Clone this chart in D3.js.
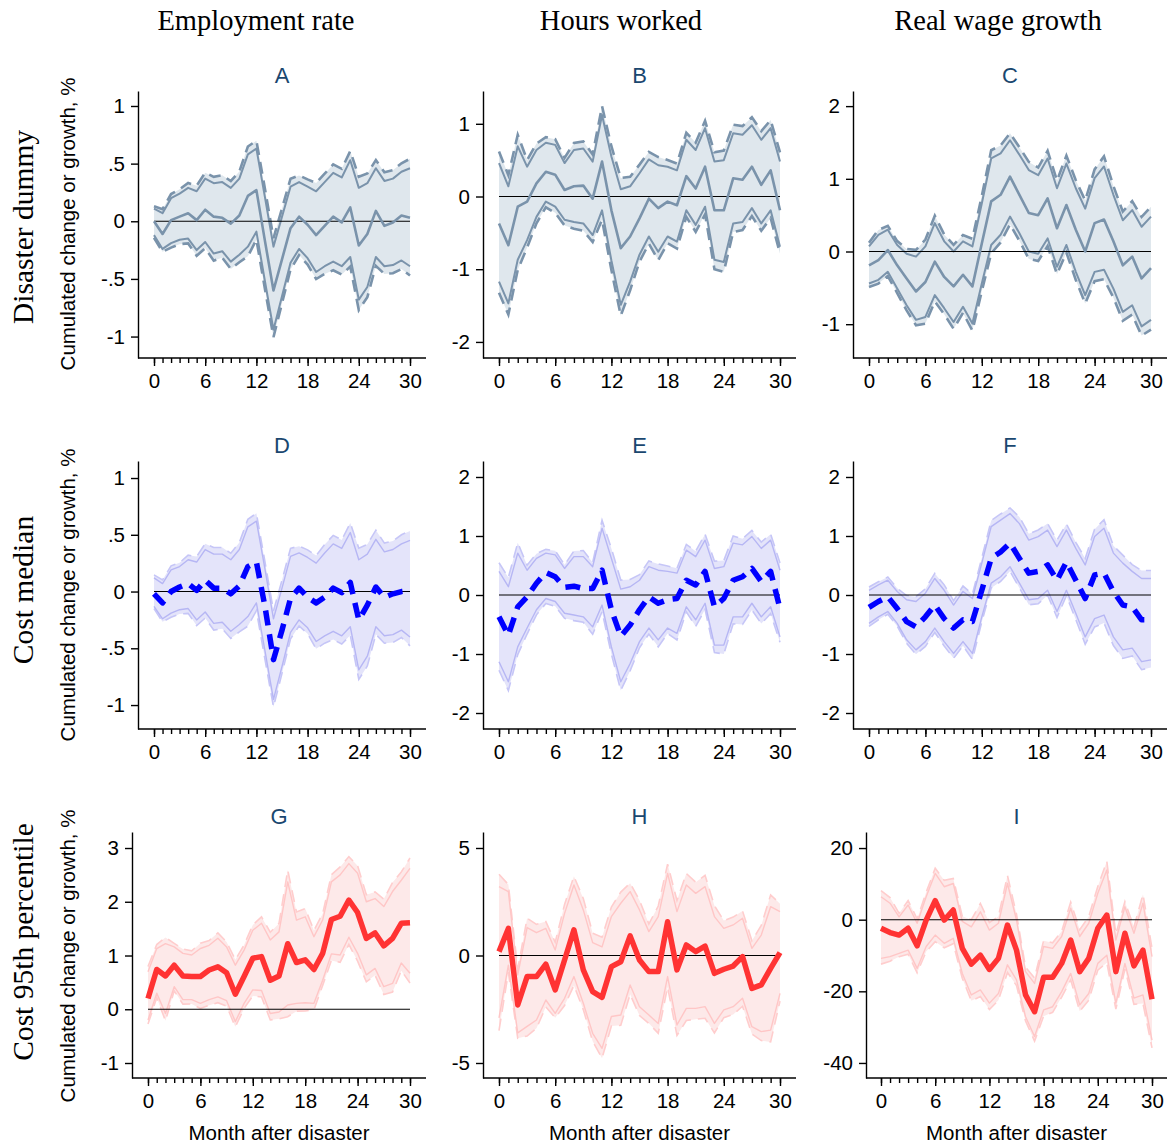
<!DOCTYPE html>
<html>
<head>
<meta charset="utf-8">
<script src="https://cdn.jsdelivr.net/npm/d3@7"></script>
<style>
  body { margin: 0; background: #fff; }
  svg { display: block; }
  text { font-family: "Liberation Sans", Arial, sans-serif; fill: #000; }
  .serif { font-family: "Liberation Serif", "Times New Roman", serif; }
</style>
</head>
<body>
<script>
// ---- data ----
const months = [0, 1, 2, 3, 4, 5, 6, 7, 8, 9, 10, 11, 12, 13, 14, 15, 16, 17, 18, 19, 20, 21, 22, 23, 24, 25, 26, 27, 28, 29, 30];
const majorMonths = [0, 6, 12, 18, 24, 30];
const columnTitles = ["Employment rate", "Hours worked", "Real wage growth"];
const rowTitles = ["Disaster dummy", "Cost median", "Cost 95th percentile"];
const panelLetters = ["A", "B", "C", "D", "E", "F", "G", "H", "I"];
const yTitle = "Cumulated change or growth, %";
const xTitle = "Month after disaster";

// point estimate (mid) and inner confidence bounds (lo / hi) per panel
const empDummy   = [0.00, -0.11, 0.01, 0.04, 0.07, 0.01, 0.10, 0.04, 0.03, -0.02, 0.05, 0.22, 0.27, -0.17, -0.60, -0.33, -0.06, 0.04, -0.03, -0.12, -0.04, 0.04, -0.01, 0.12, -0.21, -0.11, 0.09, -0.04, -0.01, 0.05, 0.03];
const empDummyHi = [0.11, 0.07, 0.20, 0.24, 0.29, 0.26, 0.37, 0.33, 0.34, 0.29, 0.37, 0.58, 0.63, 0.21, -0.22, 0.04, 0.30, 0.34, 0.30, 0.26, 0.34, 0.42, 0.38, 0.53, 0.29, 0.33, 0.46, 0.35, 0.37, 0.43, 0.46];
const empDummyLo = [-0.12, -0.24, -0.19, -0.16, -0.15, -0.25, -0.18, -0.28, -0.26, -0.35, -0.29, -0.22, -0.09, -0.52, -0.94, -0.65, -0.36, -0.24, -0.32, -0.44, -0.39, -0.35, -0.39, -0.31, -0.68, -0.57, -0.31, -0.39, -0.38, -0.34, -0.39];

const hrsDummy   = [-0.37, -0.67, -0.14, -0.07, 0.18, 0.34, 0.30, 0.09, 0.14, 0.15, -0.03, 0.48, -0.19, -0.71, -0.55, -0.30, -0.03, -0.16, -0.07, -0.12, 0.28, 0.11, 0.41, -0.19, -0.19, 0.25, 0.23, 0.41, 0.16, 0.36, -0.19];
const hrsDummyHi = [0.46, 0.14, 0.69, 0.41, 0.64, 0.74, 0.71, 0.46, 0.64, 0.66, 0.48, 1.12, 0.55, 0.10, 0.14, 0.32, 0.51, 0.43, 0.41, 0.36, 0.78, 0.64, 0.94, 0.48, 0.50, 0.87, 0.85, 0.98, 0.78, 0.94, 0.48];
const hrsDummyLo = [-1.17, -1.47, -0.87, -0.60, -0.28, -0.07, -0.14, -0.32, -0.35, -0.37, -0.53, -0.19, -0.88, -1.49, -1.17, -0.80, -0.55, -0.76, -0.55, -0.62, -0.19, -0.39, -0.14, -0.87, -0.90, -0.37, -0.35, -0.16, -0.37, -0.19, -0.69];

const wageDummy   = [-0.19, -0.12, 0.02, -0.19, -0.37, -0.55, -0.42, -0.14, -0.35, -0.48, -0.32, -0.48, 0.11, 0.69, 0.78, 1.03, 0.78, 0.53, 0.50, 0.73, 0.32, 0.64, 0.30, 0.00, 0.39, 0.44, 0.14, -0.19, -0.07, -0.37, -0.23];
const wageDummyHi = [0.07, 0.23, 0.30, 0.09, -0.03, -0.07, 0.07, 0.39, 0.14, 0.00, 0.14, 0.07, 0.66, 1.28, 1.35, 1.53, 1.33, 1.12, 1.05, 1.28, 0.87, 1.21, 0.87, 0.59, 1.01, 1.17, 0.78, 0.43, 0.57, 0.34, 0.48];
const wageDummyLo = [-0.44, -0.39, -0.28, -0.51, -0.74, -0.94, -0.90, -0.60, -0.78, -0.97, -0.76, -0.99, -0.44, 0.09, 0.23, 0.48, 0.25, 0.00, -0.03, 0.18, -0.21, 0.09, -0.28, -0.60, -0.28, -0.25, -0.51, -0.83, -0.74, -1.03, -0.94];

const empMedian   = [-0.02, -0.10, 0.00, 0.04, 0.07, 0.01, 0.10, 0.03, 0.03, -0.02, 0.05, 0.22, 0.26, -0.13, -0.60, -0.34, -0.06, 0.03, -0.05, -0.10, -0.05, 0.03, -0.01, 0.08, -0.25, -0.12, 0.04, -0.05, -0.02, 0.00, 0.01];
const empMedianHi = [0.12, 0.07, 0.19, 0.22, 0.28, 0.26, 0.37, 0.33, 0.33, 0.28, 0.37, 0.57, 0.62, 0.20, -0.24, 0.03, 0.31, 0.34, 0.30, 0.25, 0.34, 0.42, 0.38, 0.52, 0.28, 0.33, 0.46, 0.35, 0.37, 0.42, 0.45];
const empMedianLo = [-0.13, -0.24, -0.19, -0.16, -0.15, -0.25, -0.18, -0.28, -0.27, -0.35, -0.29, -0.22, -0.10, -0.52, -0.95, -0.66, -0.36, -0.25, -0.32, -0.44, -0.39, -0.35, -0.39, -0.31, -0.69, -0.57, -0.31, -0.39, -0.38, -0.34, -0.40];

const hrsMedian   = [-0.37, -0.68, -0.20, -0.03, 0.20, 0.38, 0.31, 0.13, 0.15, 0.11, 0.11, 0.42, -0.25, -0.70, -0.51, -0.25, -0.03, -0.14, -0.08, -0.06, 0.25, 0.17, 0.40, -0.20, -0.06, 0.25, 0.31, 0.45, 0.23, 0.40, -0.23];
const hrsMedianHi = [0.40, 0.14, 0.71, 0.42, 0.62, 0.71, 0.68, 0.45, 0.65, 0.65, 0.48, 1.13, 0.62, 0.10, 0.14, 0.25, 0.48, 0.42, 0.40, 0.37, 0.76, 0.65, 0.93, 0.45, 0.48, 0.88, 0.85, 0.99, 0.79, 0.93, 0.42];
const hrsMedianLo = [-1.13, -1.47, -0.88, -0.56, -0.25, -0.06, -0.11, -0.31, -0.34, -0.37, -0.54, -0.17, -0.88, -1.47, -1.16, -0.79, -0.56, -0.76, -0.56, -0.65, -0.20, -0.42, -0.14, -0.85, -0.85, -0.37, -0.37, -0.14, -0.37, -0.20, -0.71];

const wageMedian   = [-0.21, -0.11, -0.03, -0.23, -0.45, -0.54, -0.37, -0.17, -0.40, -0.56, -0.42, -0.45, 0.08, 0.62, 0.73, 0.88, 0.62, 0.37, 0.40, 0.51, 0.25, 0.56, 0.25, -0.06, 0.34, 0.37, 0.06, -0.17, -0.20, -0.42, -0.42];
const wageMedianHi = [0.08, 0.17, 0.25, 0.06, -0.08, -0.11, 0.03, 0.28, 0.08, -0.17, 0.06, -0.06, 0.54, 1.16, 1.27, 1.38, 1.21, 0.93, 0.99, 1.10, 0.82, 1.10, 0.79, 0.51, 0.99, 1.13, 0.71, 0.54, 0.40, 0.28, 0.28];
const wageMedianLo = [-0.48, -0.37, -0.28, -0.48, -0.76, -0.93, -0.79, -0.56, -0.79, -0.99, -0.79, -0.99, -0.37, 0.20, 0.31, 0.48, 0.20, -0.08, -0.06, 0.08, -0.28, 0.08, -0.31, -0.71, -0.40, -0.34, -0.71, -0.93, -0.90, -1.13, -1.10];

const empP95   = [0.20, 0.74, 0.62, 0.82, 0.62, 0.61, 0.61, 0.73, 0.79, 0.68, 0.28, 0.61, 0.95, 0.98, 0.54, 0.62, 1.22, 0.87, 0.92, 0.74, 1.04, 1.67, 1.73, 2.03, 1.80, 1.32, 1.42, 1.18, 1.32, 1.60, 1.61];
const empP95Hi = [0.70, 1.13, 1.22, 1.16, 1.04, 1.01, 1.13, 1.19, 1.32, 1.16, 0.82, 1.10, 1.47, 1.60, 1.29, 1.44, 2.37, 1.66, 1.72, 1.35, 1.66, 2.37, 2.50, 2.71, 2.53, 2.00, 2.06, 1.91, 2.19, 2.40, 2.62];
const empP95Lo = [-0.20, 0.30, -0.08, 0.42, 0.18, 0.18, 0.11, 0.18, 0.23, 0.16, -0.23, 0.11, 0.36, 0.35, -0.08, -0.05, 0.08, 0.11, 0.12, 0.11, 0.54, 1.03, 1.01, 1.34, 1.04, 0.64, 0.76, 0.42, 0.48, 0.86, 0.67];

const hrsP95   = [0.18, 1.26, -2.30, -0.98, -0.98, -0.40, -1.60, -0.21, 1.19, -0.67, -1.68, -1.95, -0.52, -0.29, 0.91, -0.21, -0.75, -0.75, 1.57, -0.67, 0.49, 0.18, 0.44, -0.83, -0.64, -0.49, -0.05, -1.53, -1.37, -0.60, 0.13];
const hrsP95Hi = [3.20, 2.97, -0.90, 1.30, 1.06, 1.26, 0.26, 1.96, 3.28, 2.12, 0.60, 0.40, 1.81, 2.43, 2.97, 2.12, 1.11, 1.81, 3.82, 2.04, 3.28, 2.89, 3.20, 1.81, 1.26, 1.42, 1.73, 0.33, 0.95, 2.27, 2.04];
const hrsP95Lo = [-2.90, -0.45, -3.60, -3.30, -3.00, -2.07, -2.69, -1.99, -0.98, -2.22, -3.62, -4.32, -2.84, -2.77, -1.37, -2.38, -2.77, -3.16, -0.98, -3.23, -2.46, -2.46, -2.38, -3.16, -2.53, -2.38, -1.99, -3.31, -3.54, -3.47, -1.76];

const wageP95   = [-2.4, -3.6, -4.3, -2.4, -7.3, -0.1, 5.3, -0.1, 2.7, -8.0, -12.4, -9.9, -13.9, -10.8, -1.5, -8.5, -21.0, -25.7, -16.1, -16.1, -12.2, -5.7, -14.5, -10.8, -2.4, 1.3, -14.5, -3.8, -12.9, -8.5, -22.2];
const wageP95Hi = [6.4, 4.6, 0.8, 4.1, -1.0, 6.4, 12.9, 9.2, 10.1, -0.5, -2.0, 2.2, -2.9, -1.0, 10.1, -0.1, -14.5, -17.8, -7.5, -8.0, -4.7, 3.2, -4.7, -1.0, 7.4, 13.9, -5.7, 3.6, -3.8, 4.6, -10.3];
const wageP95Lo = [-10.8, -10.3, -9.4, -8.5, -13.6, -7.5, -4.3, -6.6, -5.2, -15.0, -21.0, -19.6, -23.3, -20.6, -12.6, -16.8, -27.1, -32.6, -25.2, -24.3, -20.1, -15.0, -23.8, -20.6, -12.2, -9.9, -23.3, -12.2, -21.9, -21.0, -33.6];

// y tick values and their Stata-style labels
const ticksEmp = [1, 0.5, 0, -0.5, -1];
const ticksEmpLabels = ["1", ".5", "0", "-.5", "-1"];
const ticksHrsDummy = [1, 0, -1, -2];
const ticksWageDummy = [2, 1, 0, -1];
const ticksMedian = [2, 1, 0, -1, -2];
const ticksEmpP95 = [3, 2, 1, 0, -1];
const ticksHrsP95 = [5, 0, -5];
const ticksWageP95 = [20, 0, -20, -40];

// ---- layout (pixels) ----
const width = 1172;
const height = 1146;
const z95 = 1.96 / 1.645; // outer (dashed) band from the inner band

const rowBox = [
    { top: 91, bottom: 358, letterY: 83, rowLabelY: 227, yTitleY: 224 },
    { top: 461, bottom: 729, letterY: 453, rowLabelY: 590, yTitleY: 595 },
    { top: 832, bottom: 1078, letterY: 824, rowLabelY: 942, yTitleY: 956 }
];

const colTitleX = [256, 621, 998];

const rowStyle = [
    { fill: "#dfe7ed", band: "#7a93ab", bandW: 2, dash: "#7a93ab", dashW: 2.6,
      mid: "#7a93ab", midW: 2.6, midDash: null },
    { fill: "#e4e4fa", band: "#b6b6f4", bandW: 1.4, dash: "#c6c6f7", dashW: 1.6,
      mid: "#0000ff", midW: 5.5, midDash: "15,9" },
    { fill: "#fde9e9", band: "#ffc6c6", bandW: 1.4, dash: "#ffcdcd", dashW: 1.6,
      mid: "#ff3333", midW: 5.5, midDash: null }
];

const panels = [
    { row: 0, col: 0, mid: empDummy, lo: empDummyLo, hi: empDummyHi, ticks: ticksEmp, labels: ticksEmpLabels,
      axisX: 138, x0: 154, x30: 410, xEnd: 426, yDomain: [-1.186, 1.13] },
    { row: 0, col: 1, mid: hrsDummy, lo: hrsDummyLo, hi: hrsDummyHi, ticks: ticksHrsDummy,
      axisX: 483, x0: 499, x30: 780, xEnd: 796, yDomain: [-2.221, 1.451] },
    { row: 0, col: 2, mid: wageDummy, lo: wageDummyLo, hi: wageDummyHi, ticks: ticksWageDummy,
      axisX: 853, x0: 869, x30: 1151, xEnd: 1167, yDomain: [-1.465, 2.208] },
    { row: 1, col: 0, mid: empMedian, lo: empMedianLo, hi: empMedianHi, ticks: ticksEmp, labels: ticksEmpLabels,
      axisX: 138, x0: 154, x30: 410, xEnd: 426, yDomain: [-1.211, 1.15] },
    { row: 1, col: 1, mid: hrsMedian, lo: hrsMedianLo, hi: hrsMedianHi, ticks: ticksMedian,
      axisX: 483, x0: 499, x30: 780, xEnd: 796, yDomain: [-2.271, 2.271] },
    { row: 1, col: 2, mid: wageMedian, lo: wageMedianLo, hi: wageMedianHi, ticks: ticksMedian,
      axisX: 853, x0: 869, x30: 1151, xEnd: 1167, yDomain: [-2.271, 2.271] },
    { row: 2, col: 0, mid: empP95, lo: empP95Lo, hi: empP95Hi, ticks: ticksEmpP95,
      axisX: 132, x0: 148, x30: 410, xEnd: 426, yDomain: [-1.279, 3.298] },
    { row: 2, col: 1, mid: hrsP95, lo: hrsP95Lo, hi: hrsP95Hi, ticks: ticksHrsP95,
      axisX: 483, x0: 499, x30: 780, xEnd: 796, yDomain: [-5.698, 5.744] },
    { row: 2, col: 2, mid: wageP95, lo: wageP95Lo, hi: wageP95Hi, ticks: ticksWageP95,
      axisX: 866, x0: 881, x30: 1152, xEnd: 1167, yDomain: [-44.2, 24.48] }
];

// ---- drawing ----
const svg = d3.select("body")
    .append("svg")
    .attr("width", width)
    .attr("height", height);

svg.append("rect")
    .attr("width", width)
    .attr("height", height)
    .attr("fill", "#fff");

// column titles
svg.selectAll(".coltitle")
    .data(columnTitles)
    .enter()
    .append("text")
    .attr("class", "serif")
    .attr("x", (d, i) => colTitleX[i])
    .attr("y", 30)
    .attr("text-anchor", "middle")
    .style("font-size", "28.5px")
    .text(d => d);

// row titles and y axis titles
rowTitles.forEach(function (t, r) {
    svg.append("text")
        .attr("class", "serif")
        .attr("transform", "translate(33," + rowBox[r].rowLabelY + ") rotate(-90)")
        .attr("text-anchor", "middle")
        .style("font-size", "29.5px")
        .text(t);

    svg.append("text")
        .attr("transform", "translate(75," + rowBox[r].yTitleY + ") rotate(-90)")
        .attr("text-anchor", "middle")
        .style("font-size", "20.5px")
        .text(yTitle);
});

panels.forEach(function (p, k) {
    const box = rowBox[p.row];
    const st = rowStyle[p.row];
    const g = svg.append("g");

    const x = d3.scaleLinear().domain([0, 30]).range([p.x0, p.x30]);
    const y = d3.scaleLinear().domain(p.yDomain).range([box.bottom, box.top]);

    const lo95 = p.mid.map((m, i) => m - (m - p.lo[i]) * z95);
    const hi95 = p.mid.map((m, i) => m + (p.hi[i] - m) * z95);

    // shaded confidence band
    g.append("path")
        .datum(months)
        .attr("d", d3.area()
            .x(d => x(d))
            .y0((d, i) => y(lo95[i]))
            .y1((d, i) => y(hi95[i])))
        .attr("fill", st.fill)
        .attr("stroke", "none");

    const line = arr => d3.line()
        .x(d => x(d))
        .y((d, i) => y(arr[i]))(months);

    // outer dashed bounds
    [lo95, hi95].forEach(function (arr) {
        g.append("path")
            .attr("d", line(arr))
            .attr("fill", "none")
            .attr("stroke", st.dash)
            .attr("stroke-width", st.dashW)
            .attr("stroke-dasharray", "12,7");
    });

    // inner solid bounds
    [p.lo, p.hi].forEach(function (arr) {
        g.append("path")
            .attr("d", line(arr))
            .attr("fill", "none")
            .attr("stroke", st.band)
            .attr("stroke-width", st.bandW)
            .attr("stroke-linejoin", "round");
    });

    // zero line
    g.append("line")
        .attr("x1", x(0))
        .attr("x2", x(30))
        .attr("y1", y(0))
        .attr("y2", y(0))
        .attr("stroke", "#000")
        .attr("stroke-width", 1.1);

    // point estimate
    g.append("path")
        .attr("d", line(p.mid))
        .attr("fill", "none")
        .attr("stroke", st.mid)
        .attr("stroke-width", st.midW)
        .attr("stroke-linejoin", "round")
        .attr("stroke-dasharray", st.midDash);

    // y axis
    const labels = p.labels || p.ticks.map(String);
    const yAxis = g.append("g")
        .attr("transform", "translate(" + p.axisX + ",0)")
        .call(d3.axisLeft(y)
            .tickValues(p.ticks)
            .tickFormat((d, i) => labels[i])
            .tickSize(7)
            .tickSizeOuter(0)
            .tickPadding(6));
    yAxis.select(".domain").attr("stroke-width", 1.4);
    yAxis.selectAll(".tick line").attr("stroke-width", 1.4);
    yAxis.selectAll(".tick text")
        .style("font-size", "20.5px")
        .style("font-family", "'Liberation Sans', Arial, sans-serif")
        .attr("fill", "#000");

    // x axis: minor and major ticks, line drawn across the full plot width
    const xMinor = g.append("g")
        .attr("transform", "translate(0," + box.bottom + ")")
        .call(d3.axisBottom(x).tickValues(months).tickSize(5).tickFormat(""));
    xMinor.select(".domain").remove();
    xMinor.selectAll(".tick line").attr("stroke-width", 1.4);

    const xAxis = g.append("g")
        .attr("transform", "translate(0," + box.bottom + ")")
        .call(d3.axisBottom(x).tickValues(majorMonths).tickSize(8).tickPadding(7));
    xAxis.select(".domain").remove();
    xAxis.selectAll(".tick line").attr("stroke-width", 1.4);
    xAxis.selectAll(".tick text")
        .style("font-size", "20.5px")
        .style("font-family", "'Liberation Sans', Arial, sans-serif")
        .attr("fill", "#000");

    g.append("line")
        .attr("x1", p.axisX)
        .attr("x2", p.xEnd)
        .attr("y1", box.bottom)
        .attr("y2", box.bottom)
        .attr("stroke", "#000")
        .attr("stroke-width", 1.4);

    // panel letter
    const cx = (p.axisX + p.xEnd) / 2;
    g.append("text")
        .attr("x", cx)
        .attr("y", box.letterY)
        .attr("text-anchor", "middle")
        .style("font-size", "22px")
        .style("fill", "#1a476f")
        .text(panelLetters[k]);

    if (p.row === 2) {
        g.append("text")
            .attr("x", cx)
            .attr("y", 1140)
            .attr("text-anchor", "middle")
            .style("font-size", "20.5px")
            .text(xTitle);
    }
});
</script>
</body>
</html>
